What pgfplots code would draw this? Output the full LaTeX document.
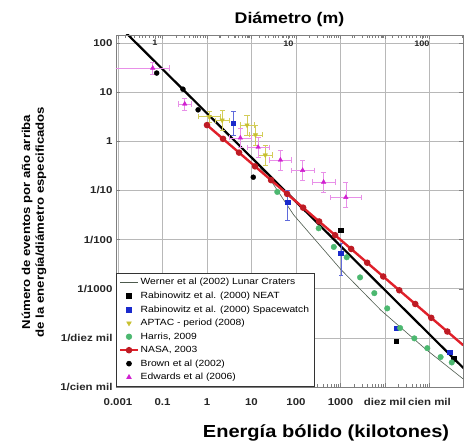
\documentclass[border=0pt]{standalone}
\usepackage{fontspec}
\setmainfont{Liberation Sans}[FakeStretch=1.15]
\usepackage{pgfplots}
\pgfplotsset{compat=1.18}
\usetikzlibrary{calc}
\definecolor{nasared}{HTML}{E0202A}
\definecolor{harrisgreen}{HTML}{4CB870}
\definecolor{swblue}{HTML}{1A2ACC}
\definecolor{aptac}{HTML}{C8C030}
\definecolor{edw}{HTML}{D020D0}
\definecolor{edwlight}{HTML}{E890E8}
\definecolor{werner}{HTML}{4D5A4D}
\definecolor{frame}{HTML}{7F7F7F}
\begin{document}
\begin{tikzpicture}
\begin{axis}[name=ax, scale only axis, width=347bp, height=352bp,
  at={(0,0)}, anchor=south west,
  xmode=log, ymode=log,
  xmin=0.00902, xmax=5.66e5, ymin=1e-5, ymax=145.6,
  axis line style={frame},
  xtick={0.01,0.1,1,10,100,1000,10000,100000},
  xticklabels={0.001,0.1,1,10,100,1000,diez mil,cien mil},
  ytick={100,10,1,0.1,0.01,0.001,0.0001,0.00001},
  yticklabels={100,10,1,1/10,1/100,1/1000,1/diez mil,1/cien mil},
  log identify minor tick positions=true,
  tick label style={font=\bfseries\fontsize{10}{12}\selectfont, text=black!85},
  xticklabel style={yshift=-8bp},
  /pgf/number format/assume math mode=true,
  xmajorgrids, ymajorgrids, yminorgrids,
  major grid style={draw=black!28, line width=0.5bp},
  minor grid style={draw=black!12, line width=0.4bp},
  tick style={frame},
  legend cell align=left,
  legend style={at={(0,0)}, anchor=south west, draw=black!80, line width=0.6bp,
    font=\fontsize{9}{10.5}\selectfont, row sep=1.6bp, inner xsep=3bp, inner ysep=3.5bp},
  error bars/error bar style={line width=0.5bp},
  clip=true,
]
% Brown et al. fit
\addplot[black, line width=2.2bp, forget plot] coordinates {(0.01,233.5) (6.2e5,2.28e-5)};
% Werner lunar craters
\addplot[werner, line width=0.6bp] coordinates {
(15.85,0.282) (26.9,0.162) (89.1,0.0316) (1000,2.51e-3) (8128,3.63e-4) (79430,6.03e-5) (616600,1.38e-5)};
\addlegendentry{Werner et al (2002) Lunar Craters}
% NEAT
\addplot[only marks, mark=square*, mark size=2.3bp, black] coordinates {
(1023,0.0155) (17780,8.51e-5) (346700,3.80e-5)};
\addlegendentry{Rabinowitz et al. (2000) NEAT}
% Spacewatch
\addplot[only marks, mark=square*, mark size=2.3bp, swblue,
  error bars/.cd, y dir=both, y explicit relative, error bar style={swblue!70}] coordinates {
(3.89,2.34) += (0,0.778) -= (0,0.438)
(64.6,0.0575) += (0,0.738) -= (0,0.563)
(1023,5.25e-3) += (0,0.585) -= (0,0.637)
(17780,1.585e-4) += (0,0) -= (0,0)
(281800,5.13e-5) += (0,0) -= (0,0)};
\addlegendentry{Rabinowitz et al. (2000) Spacewatch}
% APTAC
\addplot[only marks, mark=triangle*, mark options={rotate=180}, mark size=2.6bp, aptac,
  error bars/.cd, x dir=both, x explicit relative, y dir=both, y explicit relative,
  error bar style={aptac!80}] coordinates {
(1.12,3.16) += (0.778,0.318) -= (0.438,0.241)
(2.19,2.69) += (0.413,0.585) -= (0.292,0.369)
(7.94,2.14) += (0.413,0.585) -= (0.292,0.369)
(12.3,1.35) += (0.413,0.585) -= (0.292,0.369)
(20.4,0.525) += (0.413,0.585) -= (0.292,0.369)};
\addlegendentry{APTAC - period (2008)}
% Harris 2009
\addplot[only marks, mark=*, mark size=2.8bp, harrisgreen] coordinates {
(38.0,0.0933) (323.6,0.01698) (707.9,7.08e-3) (1380,4.37e-3) (2754,1.70e-3)
(5754,8.13e-4) (11220,3.98e-4) (21880,1.585e-4) (45710,9.77e-5) (89130,6.17e-5)
(177800,4.07e-5) (316200,3.16e-5)};
\addlegendentry{Harris, 2009}
% NASA 2003
\addplot[nasared, line width=2.4bp, mark=*, mark size=2bp, mark options={fill=nasared!85!black, draw=nasared!85!black}] coordinates {
(1,2.138) (2.291,1.122) (5.248,0.589) (12.02,0.309) (27.54,0.162) (63.10,0.0851)
(144.5,0.0447) (331.1,2.339e-2) (758.6,1.227e-2) (1738,6.44e-3) (3981,3.38e-3)
(9120,1.774e-3) (20890,9.31e-4) (47860,4.89e-4) (109600,2.56e-4) (251200,1.346e-4)
(575400,7.06e-5)};
\addlegendentry{NASA, 2003}
% Brown et al 2002
\addplot[only marks, mark=*, mark size=2.5bp, black] coordinates {
(0.0741,24.5) (0.288,11.5) (0.631,4.37) (10.96,0.186)};
\addlegendentry{Brown et al (2002)}
% Edwards et al 2006
\addplot[only marks, mark=triangle*, mark size=2.6bp, edw,
  error bars/.cd, x dir=both, x explicit relative, y dir=both, y explicit relative,
  error bar style={edwlight}] coordinates {
(0.0603,30.9) += (1.40,0.318) -= (0.893,0.241)
(0.316,5.75) += (0.413,0.318) -= (0.292,0.241)
(5.62,1.175) += (0.778,0.585) -= (0.438,0.369)
(14.1,0.759) += (0.778,0.585) -= (0.438,0.369)
(44.7,0.417) += (0.778,0.585) -= (0.438,0.369)
(141,0.257) += (0.778,0.585) -= (0.438,0.369)
(417,0.148) += (0.778,0.585) -= (0.438,0.369)
(1318,0.0724) += (1.239,0.995) -= (0.553,0.369)};
\addlegendentry{Edwards et al (2006)}
\end{axis}
\begin{axis}[scale only axis, width=347bp, height=352bp,
  at={(0,0)}, anchor=south west,
  xmode=log, xmin=0.511, xmax=203, ymin=0, ymax=1,
  axis x line*=top, axis y line=none,
  axis line style={frame}, tick style={frame},
  xtick={1,10,100}, xticklabels={1,10,100},
  minor xtick={0.6,0.7,0.8,0.9,2,3,4,5,6,7,8,9,20,30,40,50,60,70,80,90,200},
  xticklabel style={anchor=north, yshift=-2bp, font=\bfseries\fontsize{8}{10}\selectfont, text=black!85},
]
\end{axis}
\node[font=\bfseries\fontsize{15.5}{18}\selectfont] at ($(ax.south west)+(173.5bp,368bp)$) {Diámetro (m)};
\node[font=\bfseries\fontsize{17.5}{20}\selectfont] at ($(ax.south west)+(210bp,-46bp)$) {Energía bólido (kilotones)};
\node[rotate=90, align=center, font=\bfseries\fontsize{11.5}{14}\selectfont] at ($(ax.south west)+(-82bp,165bp)$) {Número de eventos por año arriba\\de la energía/diámetro especificados};
\pgfresetboundingbox
\path[use as bounding box] ($(ax.south west)+(-116bp,-57bp)$) rectangle ($(ax.south west)+(356bp,387bp)$);
\end{tikzpicture}
\end{document}
